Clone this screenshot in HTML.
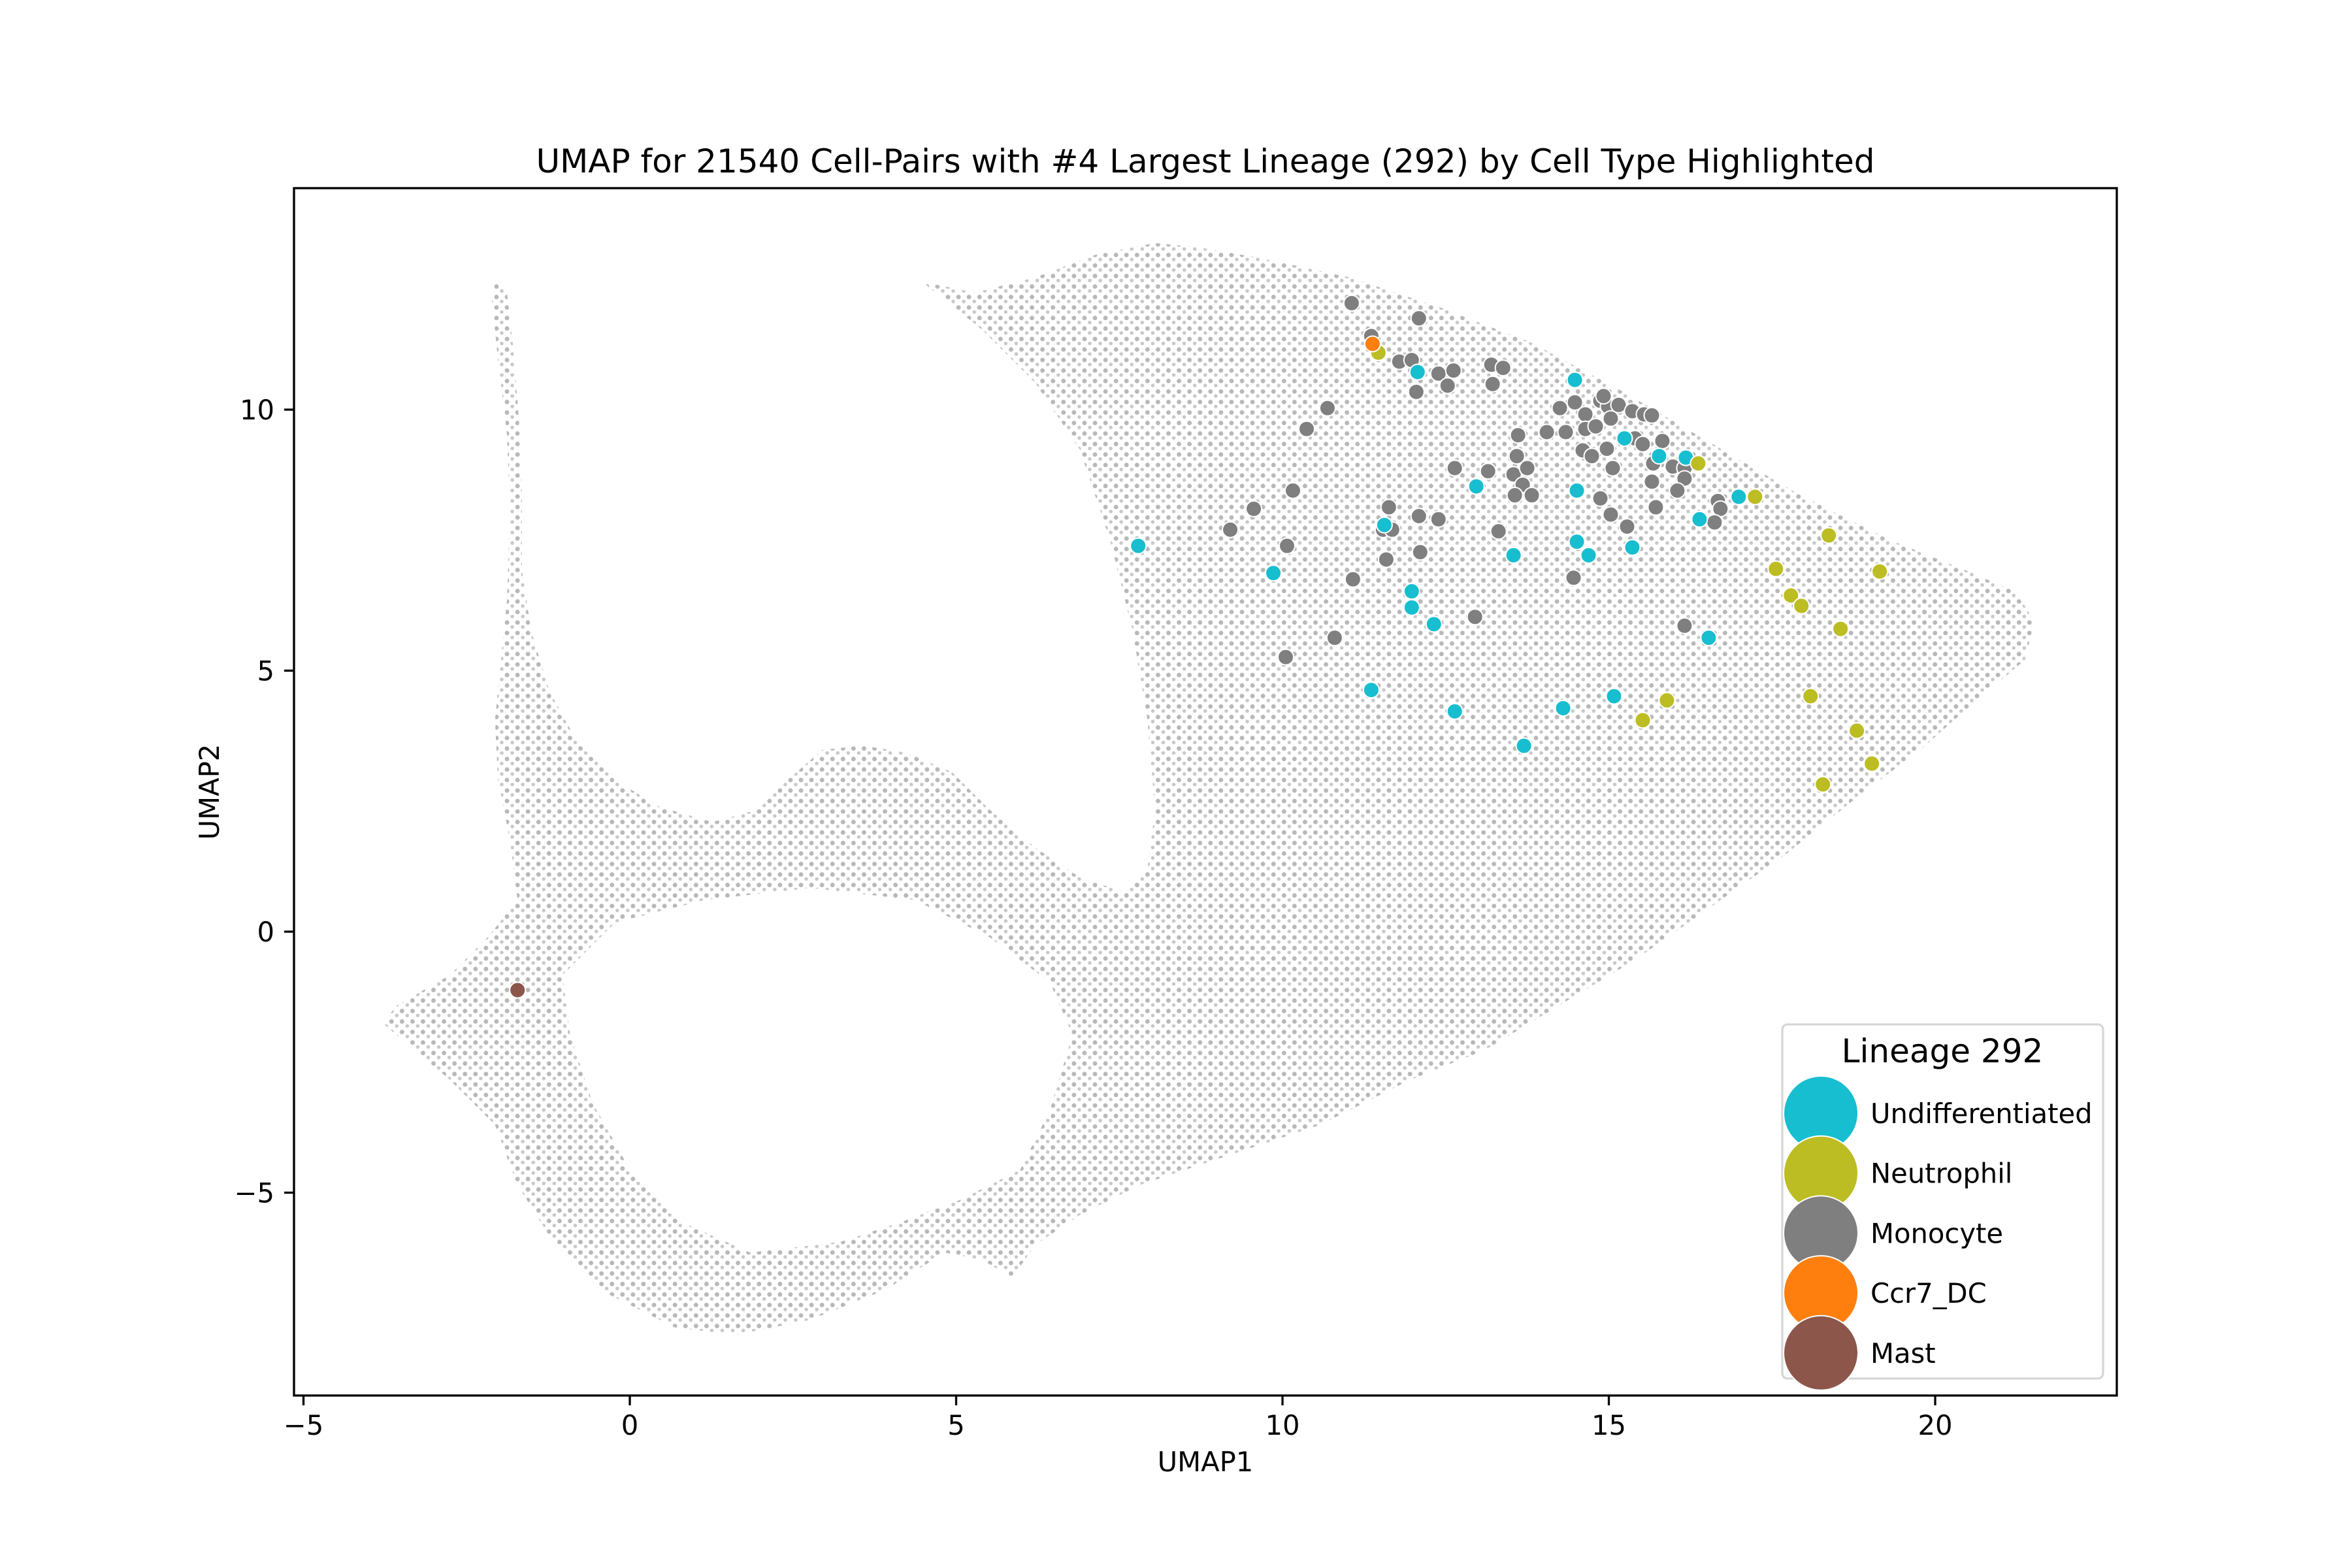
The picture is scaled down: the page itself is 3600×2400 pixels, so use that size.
<!DOCTYPE html>
<html><head><meta charset="utf-8"><style>
html,body{margin:0;padding:0;background:#fff;}
svg{display:block;font-family:"DejaVu Sans","Liberation Sans",sans-serif;}
</style></head><body>
<svg id="chart" width="3600" height="2400" viewBox="0 0 3600 2400" xmlns="http://www.w3.org/2000/svg">
<defs>
<pattern id="dots" width="7" height="7" patternUnits="userSpaceOnUse">
<circle cx="2" cy="2" r="1.5" fill="#9a9a9a"/><circle cx="5.5" cy="5" r="1.2" fill="#b0b0b0"/>
</pattern>
</defs>
<rect width="3600" height="2400" fill="#fff"/>
<g transform="scale(2.2959)">
<polygon fill="url(#dots)" opacity="0.7" points="330,188 338,195 342,230 346,280 348,330 348,380 354,420 366,460 385,495 410,520 440,538 475,548 505,540 525,520 548,500 575,497 605,502 635,515 660,540 690,565 720,585 750,595 765,580 770,540 765,480 755,420 740,360 720,300 690,255 655,220 615,188 650,195 690,185 730,170 770,162 800,165 840,172 900,185 960,205 1020,228 1080,260 1140,295 1200,330 1260,360 1310,380 1345,395 1356,415 1350,440 1320,465 1280,500 1240,530 1190,570 1140,605 1090,640 1040,670 990,700 940,720 880,750 820,770 760,790 720,810 690,830 675,852 655,840 630,835 590,860 540,880 490,890 450,885 400,860 370,830 345,790 330,750 300,720 255,682 265,670 300,650 325,625 345,600 340,560 332,520 330,480 334,440 338,400 340,340 338,290 332,240 328,200"/>
<polygon fill="#fff" points="375,650 410,615 470,600 540,592 610,600 660,625 700,655 715,690 700,740 680,780 640,800 600,815 560,828 500,835 455,815 420,780 395,735 380,690"/>
</g>
<g id="axes"></g>
<g id="points"></g>
<rect x="450" y="288" width="2790" height="1848" fill="none" stroke="#000" stroke-width="3.3"/>
<text x="1845" y="264" font-size="50" text-anchor="middle">UMAP for 21540 Cell-Pairs with #4 Largest Lineage (292) by Cell Type Highlighted</text>
<text x="1845" y="2252" font-size="41.7" text-anchor="middle">UMAP1</text>
<text x="0" y="0" font-size="41.7" text-anchor="middle" transform="translate(335,1212) rotate(-90)">UMAP2</text>
<g id="legend">
<rect x="2728" y="1568" width="491" height="542" rx="8" fill="#fff" fill-opacity="0.8" stroke="#d6d6d6" stroke-width="3.3"/>
<text x="2973" y="1626" font-size="50" text-anchor="middle">Lineage 292</text>
</g>
</svg>
<script>
const xTicks = [-5, 0, 5, 10, 15, 20];
const yTicks = [-5, 0, 5, 10];
const categories = ["Undifferentiated", "Neutrophil", "Monocyte", "Ccr7_DC", "Mast"];
const colors = ["#17becf", "#bcbd22", "#7f7f7f", "#ff7f0e", "#8c564b"];
const monoX = [11.06,12.09,11.36,11.79,11.98,12.39,12.62,12.53,12.05,13.20,13.38,13.22,10.69,10.37,13.61,14.05,14.34,14.25,14.48,14.64,14.64,14.87,14.99,14.92,15.15,15.36,15.54,15.66,15.03,14.80,14.60,14.74,14.97,15.40,15.52,15.82,15.68,15.98,16.16,15.06,15.66,16.16,16.05,16.67,16.71,15.72,16.62,14.87,15.03,15.28,13.59,13.54,13.75,13.68,13.82,13.56,12.64,13.15,13.31,14.46,16.16,10.16,9.56,9.20,10.07,11.63,11.54,11.68,12.09,12.39,12.11,11.59,11.08,12.95,10.80,10.05];
const monoY = [12.04,11.75,11.41,10.92,10.95,10.69,10.75,10.46,10.34,10.86,10.80,10.49,10.03,9.63,9.51,9.57,9.57,10.03,10.14,9.91,9.63,10.17,10.06,10.26,10.09,9.97,9.91,9.89,9.83,9.68,9.22,9.11,9.25,9.45,9.34,9.40,8.97,8.91,8.88,8.88,8.62,8.68,8.45,8.25,8.10,8.13,7.84,8.30,7.99,7.76,9.11,8.76,8.88,8.56,8.36,8.36,8.88,8.82,7.67,6.78,5.86,8.45,8.10,7.70,7.39,8.13,7.70,7.70,7.96,7.90,7.27,7.13,6.75,6.03,5.63,5.26];
const undX = [7.79,9.86,11.98,11.98,12.32,11.36,12.64,13.70,14.30,15.08,12.07,12.97,13.54,14.48,14.51,14.51,14.69,15.36,15.24,15.77,16.18,16.39,16.99,16.53,11.56];
const undY = [7.39,6.87,6.52,6.21,5.89,4.63,4.22,3.56,4.28,4.51,10.72,8.53,7.21,10.57,8.45,7.47,7.21,7.36,9.45,9.11,9.08,7.90,8.33,5.63,7.79];
const neuX = [11.47,16.37,17.24,18.37,19.15,17.56,17.79,17.95,18.55,18.09,15.89,15.52,18.80,19.03,18.28];
const neuY = [11.09,8.97,8.33,7.59,6.90,6.95,6.44,6.24,5.80,4.51,4.43,4.05,3.85,3.22,2.82];
const dcX = [11.38];
const dcY = [11.26];
const mastX = [-1.72];
const mastY = [-1.12];

const NS = "http://www.w3.org/2000/svg";
const X0 = 964, XS = 99.9, Y0 = 1426, YS = 79.9;
function sx(v){ return X0 + v * XS; }
function sy(v){ return Y0 - v * YS; }
function mk(tag, attrs, parent){
  const e = document.createElementNS(NS, tag);
  for (const k in attrs) e.setAttribute(k, attrs[k]);
  parent.appendChild(e);
  return e;
}
const axes = document.getElementById("axes");
xTicks.forEach(t => {
  const l = mk("line", {x1: sx(t), x2: sx(t), y1: 2136, y2: 2151, stroke: "#000", "stroke-width": 3.3}, axes);
  
  
  const tx = mk("text", {x: sx(t), y: 2196, "font-size": 41.7, "text-anchor": "middle"}, axes);
  tx.textContent = t < 0 ? "\u2212" + Math.abs(t) : String(t);
  
  
});
yTicks.forEach(t => {
  const l = mk("line", {x1: 435, x2: 450, y1: sy(t), y2: sy(t), stroke: "#000", "stroke-width": 3.3}, axes);
  
  
  const tx = mk("text", {x: 420, y: sy(t) + 15, "font-size": 41.7, "text-anchor": "end"}, axes);
  tx.textContent = t < 0 ? "\u2212" + Math.abs(t) : String(t);
  
  
});
const pts = document.getElementById("points");
const series = [[monoX, monoY, 2], [undX, undY, 0], [neuX, neuY, 1], [dcX, dcY, 3], [mastX, mastY, 4]];
series.forEach(s => {
  const xs = s[0], ys = s[1], ci = s[2];
  for (let i = 0; i < xs.length; i++) {
    const c = mk("circle", {cx: sx(xs[i]), cy: sy(ys[i]), r: 12, fill: colors[ci], stroke: "#fff", "stroke-width": 2}, pts);
    
    
  }
});
const leg = document.getElementById("legend");
categories.forEach((c, i) => {
  const cy = 1704 + i * 91.7;
  const m = mk("circle", {cx: 2787, cy: cy, r: 57, fill: colors[i], stroke: "#fff", "stroke-width": 2}, leg);
  
  
  const t = mk("text", {x: 2863, y: cy + 15, "font-size": 41.7}, leg);
  t.textContent = c;
  
  
});
</script>
</body></html>
